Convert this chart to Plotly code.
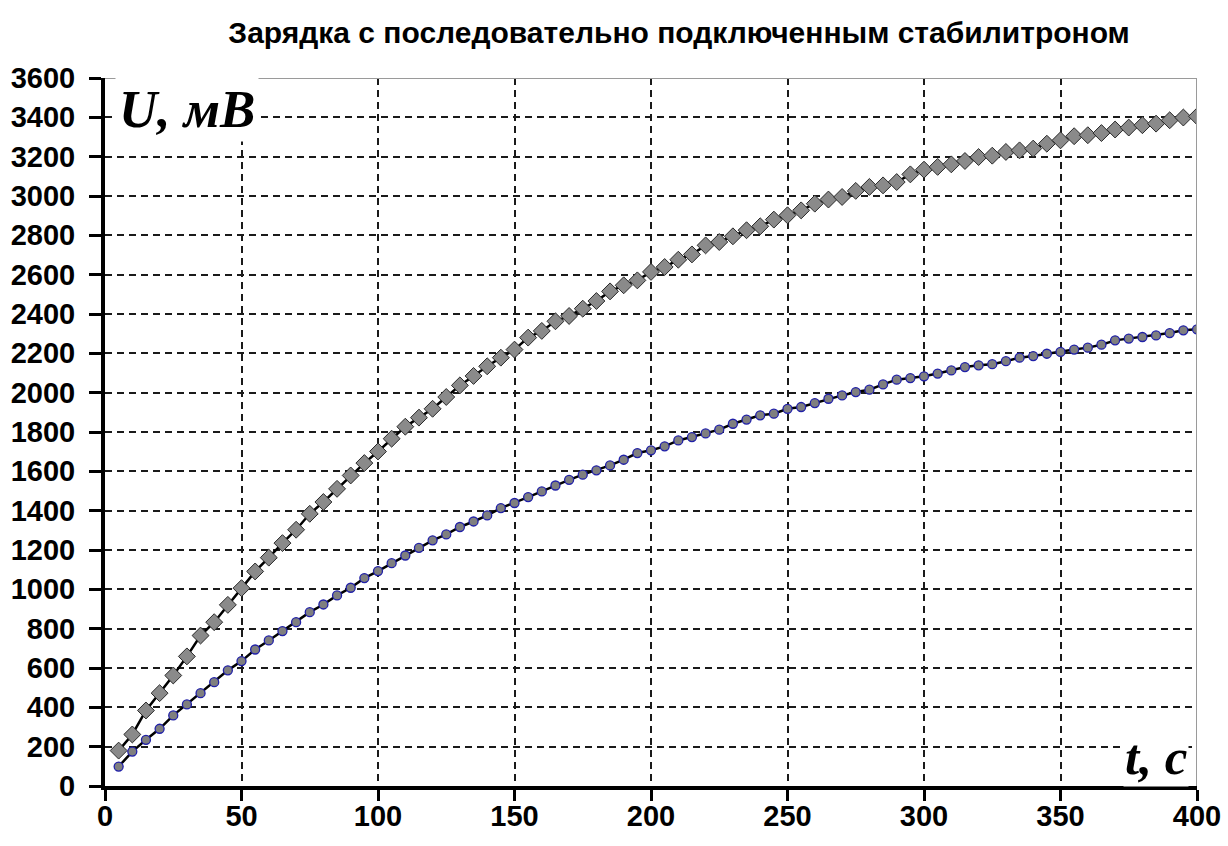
import plotly.graph_objects as go

t = list(range(5, 405, 5))

u_upper = [180, 262, 384, 472, 562, 659, 765, 833, 921, 1006,
           1091, 1161, 1235, 1303, 1384, 1444, 1511, 1579, 1642, 1701,
           1766, 1827, 1873, 1918, 1978, 2037, 2085, 2134, 2178, 2219,
           2280, 2314, 2363, 2390, 2427, 2466, 2515, 2546, 2571, 2614,
           2639, 2676, 2703, 2749, 2766, 2795, 2826, 2846, 2880, 2902,
           2927, 2961, 2982, 2995, 3026, 3046, 3054, 3071, 3110, 3134,
           3148, 3161, 3178, 3198, 3205, 3224, 3232, 3241, 3266, 3283,
           3304, 3309, 3320, 3338, 3348, 3360, 3368, 3385, 3399, 3405]

u_lower = [99, 175, 235, 291, 359, 415, 472, 528, 588, 635,
           694, 740, 788, 833, 884, 923, 969, 1008, 1057, 1093,
           1133, 1172, 1211, 1249, 1279, 1317, 1345, 1376, 1413, 1439,
           1469, 1498, 1528, 1557, 1583, 1605, 1630, 1659, 1693, 1707,
           1727, 1757, 1774, 1793, 1812, 1842, 1863, 1885, 1893, 1918,
           1927, 1947, 1969, 1986, 2003, 2015, 2042, 2066, 2074, 2083,
           2097, 2113, 2130, 2139, 2145, 2160, 2178, 2186, 2198, 2207,
           2219, 2229, 2244, 2266, 2275, 2283, 2291, 2303, 2317, 2322]

x_ticks = [0, 50, 100, 150, 200, 250, 300, 350, 400]
y_ticks = list(range(0, 3601, 200))

title_text = "Зарядка с последовательно подключенным стабилитроном"
y_label = "U, мВ"
x_label = "t, с"

fig = go.Figure()
fig.add_trace(go.Scatter(
    x=t, y=u_upper, mode="lines+markers",
    line=dict(color="black", width=2.5),
    marker=dict(symbol="diamond", size=13, color="#8a8a8a",
                line=dict(color="#2a2a2a", width=1)),
    showlegend=False))
fig.add_trace(go.Scatter(
    x=t, y=u_lower, mode="lines+markers",
    line=dict(color="black", width=2.5),
    marker=dict(symbol="circle", size=9, color="#7f7f7f",
                line=dict(color="#2020a8", width=1.3)),
    showlegend=False))

tickfont = dict(family="Arial, Liberation Sans, sans-serif", size=29,
                color="black", weight="bold")

fig.update_layout(
    width=1228, height=846,
    margin=dict(l=105, r=31, t=78, b=60),
    paper_bgcolor="white", plot_bgcolor="white",
    title=dict(text=title_text, x=0.553, xanchor="center", y=0.962, yanchor="middle",
               font=dict(family="Arial, Liberation Sans, sans-serif", size=30,
                         color="black", weight="bold")),
    xaxis=dict(range=[0, 400], tickvals=x_ticks, showgrid=True,
               gridcolor="#1a1a1a", gridwidth=1.6, griddash="7px,5px",
               showline=True, linecolor="black", linewidth=4,
               ticks="outside", ticklen=11, tickwidth=3, tickcolor="black",
               tickfont=tickfont, zeroline=False, ticklabelstandoff=-10,
               automargin=False),
    yaxis=dict(range=[0, 3600], tickvals=y_ticks, showgrid=True,
               gridcolor="#1a1a1a", gridwidth=1.6, griddash="7px,5px",
               showline=True, linecolor="black", linewidth=4,
               ticks="outside", ticklen=12, tickwidth=3, tickcolor="black",
               tickfont=tickfont, zeroline=False, ticklabelstandoff=8,
               automargin=False),
    annotations=[
        dict(text="<b><i>" + y_label + "</i></b>", xref="paper", yref="paper",
             x=0, y=1, xanchor="left", yanchor="top", xshift=10, yshift=2,
             showarrow=False, bgcolor="white", borderpad=3,
             font=dict(family="Times New Roman, Liberation Serif, serif",
                       size=53, color="black")),
        dict(text="<b><i>" + x_label + "</i></b>", xref="paper", yref="y",
             x=1, y=150, xanchor="right", yanchor="middle", xshift=-8,
             showarrow=False, bgcolor="white", borderpad=1,
             font=dict(family="Times New Roman, Liberation Serif, serif",
                       size=51, color="black")),
    ],
    shapes=[
        dict(type="line", xref="x", yref="y", x0=0, x1=400, y0=3600, y1=3600,
             line=dict(color="#9a9a9a", width=2), layer="above"),
        dict(type="line", xref="x", yref="y", x0=400, x1=400, y0=0, y1=3600,
             line=dict(color="#9a9a9a", width=2), layer="above"),
    ],
)

fig.write_html("out.html")
